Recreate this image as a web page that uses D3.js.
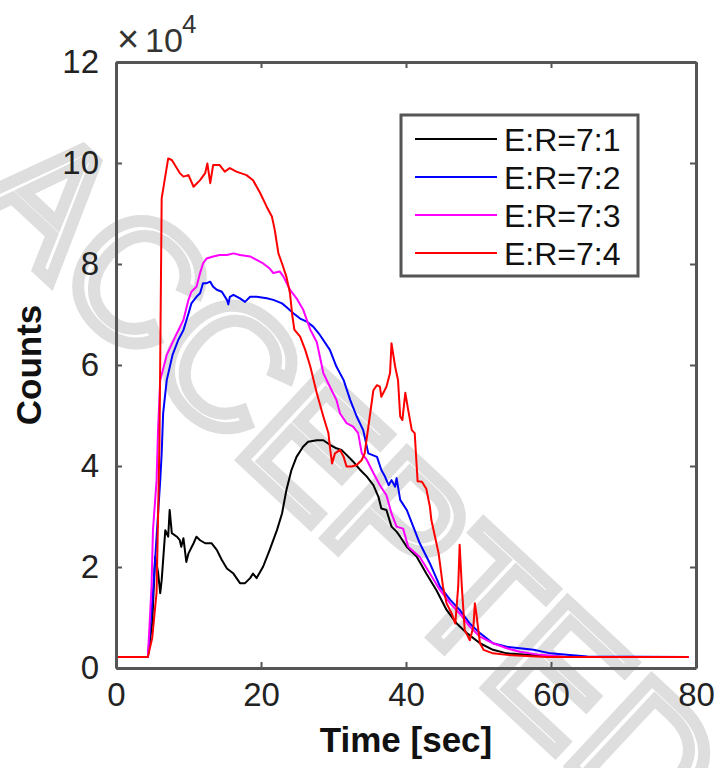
<!DOCTYPE html>
<html>
<head>
<meta charset="utf-8">
<script src="https://cdn.jsdelivr.net/npm/d3@7"></script>
<style>
  html, body { margin: 0; padding: 0; background: #fff; }
  svg { display: block; }
</style>
</head>
<body>
<div id="chart"></div>
<script>
// values are in units of 10^4 counts, time in seconds
const seriesNames = ["E:R=7:1", "E:R=7:2", "E:R=7:3", "E:R=7:4"];
const seriesColors = ["#000000", "#0000ff", "#ff00ff", "#ff0000"];

const blackT = [0, 4.4, 5.0, 5.4, 5.8, 6.1, 6.3, 6.8, 7.2, 7.4, 7.7, 8.4, 8.8, 9.0, 9.3, 9.7, 10.0, 10.7, 11.1, 11.6, 12.3, 13.2, 13.9, 14.6, 15.3, 16.2, 17.1, 17.8, 18.5, 18.9, 19.4, 20.3, 21.2, 22.2, 22.9, 23.5, 24.2, 24.9, 25.8, 26.5, 27.7, 28.6, 29.5, 30.4, 31.1, 31.8, 32.7, 33.7, 34.6, 35.5, 36.2, 36.6, 37.3, 38.0, 38.7, 39.2, 40.1, 41.5, 42.8, 44.2, 45.6, 47.0, 48.4, 50.2, 52.0, 53.9, 56.6, 59.4, 62, 79];
const blackV = [0.22, 0.22, 0.9, 2.2, 1.9, 1.48, 1.74, 2.73, 2.60, 3.13, 2.67, 2.60, 2.53, 2.40, 2.57, 2.10, 2.27, 2.47, 2.60, 2.53, 2.47, 2.47, 2.34, 2.14, 1.97, 1.87, 1.68, 1.68, 1.78, 1.87, 1.78, 2.01, 2.34, 2.73, 3.06, 3.52, 3.92, 4.18, 4.38, 4.48, 4.51, 4.51, 4.42, 4.35, 4.32, 4.22, 4.09, 3.92, 3.79, 3.62, 3.39, 3.16, 3.13, 2.80, 2.70, 2.60, 2.40, 2.20, 1.87, 1.54, 1.15, 0.88, 0.69, 0.49, 0.36, 0.29, 0.26, 0.24, 0.22, 0.22];

const blueT = [0, 4.4, 5.1, 6.1, 6.3, 6.5, 7.0, 7.8, 8.6, 9.3, 10.0, 10.4, 11.1, 11.6, 12.0, 12.5, 13.0, 13.4, 13.9, 14.6, 15.3, 15.5, 15.7, 16.2, 17.1, 17.8, 18.5, 19.4, 20.8, 21.7, 22.9, 23.5, 24.5, 25.4, 26.3, 27.2, 28.1, 29.5, 30.4, 31.4, 32.3, 33.2, 34.1, 34.8, 36.0, 36.6, 37.1, 37.6, 38.0, 38.5, 38.7, 39.2, 40.1, 41.0, 41.9, 43.3, 44.7, 46.1, 47.4, 48.8, 50.2, 52.0, 53.9, 55.7, 57.6, 59.9, 62.2, 65, 79];
const blueV = [0.22, 0.22, 1.48, 3.72, 4.25, 5.04, 5.70, 6.20, 6.50, 6.69, 7.02, 7.22, 7.35, 7.42, 7.62, 7.62, 7.65, 7.55, 7.49, 7.45, 7.29, 7.20, 7.35, 7.39, 7.32, 7.25, 7.35, 7.35, 7.32, 7.29, 7.22, 7.15, 7.02, 6.92, 6.86, 6.76, 6.60, 6.30, 5.97, 5.70, 5.31, 4.98, 4.71, 4.25, 4.18, 3.92, 3.79, 3.62, 3.72, 3.59, 3.76, 3.33, 3.13, 2.80, 2.47, 2.07, 1.61, 1.35, 1.15, 0.88, 0.69, 0.49, 0.42, 0.39, 0.36, 0.29, 0.26, 0.23, 0.22];

const magentaT = [0, 4.4, 4.9, 5.1, 5.6, 5.8, 6.1, 7.0, 8.4, 9.3, 10.0, 10.4, 11.1, 11.6, 12.0, 12.5, 13.4, 14.3, 15.3, 16.2, 17.1, 18.5, 19.4, 20.3, 21.2, 21.7, 22.6, 23.1, 24.0, 24.9, 25.8, 26.8, 27.7, 28.6, 29.5, 30.4, 30.9, 31.8, 32.7, 33.4, 33.9, 34.6, 35.5, 36.4, 37.3, 38.0, 38.7, 39.6, 40.3, 41.9, 43.3, 44.7, 46.1, 47.4, 48.8, 50.2, 52.0, 53.9, 55.7, 58.5, 62, 79];
const magentaV = [0.22, 0.22, 1.61, 2.73, 3.72, 4.71, 5.70, 6.20, 6.63, 6.89, 7.29, 7.45, 7.55, 7.82, 8.01, 8.11, 8.15, 8.18, 8.18, 8.21, 8.18, 8.15, 8.08, 8.01, 7.91, 7.82, 7.85, 7.75, 7.49, 7.32, 7.10, 6.70, 6.45, 5.84, 5.57, 5.31, 5.04, 4.85, 4.78, 4.65, 4.25, 4.12, 3.86, 3.62, 3.42, 3.06, 2.80, 2.76, 2.40, 2.20, 1.87, 1.54, 1.28, 1.08, 0.82, 0.62, 0.49, 0.39, 0.32, 0.26, 0.22, 0.22];

const redT = [0, 4.4, 5.0, 5.6, 6.0, 6.3, 7.2, 7.7, 8.8, 9.3, 10.0, 10.7, 11.6, 12.3, 12.6, 13.0, 13.4, 14.3, 15.0, 15.7, 16.6, 18.0, 18.9, 19.9, 20.8, 21.5, 21.7, 21.9, 22.4, 22.9, 23.5, 24.0, 24.3, 24.6, 25.4, 26.1, 26.8, 27.7, 28.6, 29.3, 29.5, 29.8, 30.2, 30.9, 31.4, 31.8, 32.5, 33.2, 33.9, 34.3, 35.0, 35.5, 36.0, 36.4, 36.6, 37.3, 37.8, 38.0, 38.5, 38.9, 39.2, 39.5, 39.9, 40.3, 40.8, 41.2, 41.6, 42.2, 42.8, 43.3, 43.5, 44.0, 44.5, 45.1, 45.6, 46.3, 46.8, 47.2, 47.4, 47.7, 48.1, 48.8, 49.3, 49.5, 49.7, 50.2, 50.7, 52.0, 53.9, 56.6, 59.4, 79];
const redV = [0.22, 0.22, 0.6, 1.5, 4.5, 9.3, 10.09, 10.06, 9.80, 9.73, 9.76, 9.53, 9.66, 9.80, 9.99, 9.60, 9.96, 9.96, 9.83, 9.90, 9.83, 9.76, 9.66, 9.40, 9.13, 8.94, 8.81, 8.67, 8.21, 8.01, 7.75, 7.42, 7.00, 6.70, 6.56, 6.30, 5.97, 5.44, 4.98, 4.65, 4.38, 4.05, 4.25, 4.32, 4.18, 3.99, 3.99, 4.02, 4.12, 4.25, 4.98, 5.50, 5.60, 5.57, 5.37, 5.57, 5.84, 6.43, 5.97, 5.70, 4.98, 4.91, 5.45, 5.11, 4.71, 4.65, 3.70, 3.69, 3.55, 3.19, 2.93, 2.60, 2.27, 1.61, 1.28, 1.08, 0.88, 1.61, 2.44, 1.61, 0.75, 0.55, 0.82, 1.28, 1.08, 0.49, 0.36, 0.29, 0.26, 0.24, 0.22, 0.22];

const xTicks = [0, 20, 40, 60, 80];
const yTicks = [0, 2, 4, 6, 8, 10, 12];

const allT = [blackT, blueT, magentaT, redT];
const allV = [blackV, blueV, magentaV, redV];

const width = 721;
const height = 768;
const plotLeft = 116, plotRight = 696, plotTop = 62, plotBottom = 668;

const svg = d3.select("#chart")
    .append("svg")
    .attr("width", width)
    .attr("height", height);

// watermark, runs off the page like in the original
svg.append("text")
    .attr("transform", "translate(350,478) rotate(43)")
    .attr("text-anchor", "middle")
    .attr("dominant-baseline", "central")
    .attr("font-family", "Liberation Sans, Arial, sans-serif")
    .attr("font-size", 172)
    .attr("fill", "none")
    .attr("stroke", "#dedede")
    .attr("stroke-width", 12)
    .text("ACCEPTED");

const x = d3.scaleLinear().domain([0, 80]).range([plotLeft, plotRight]);
const y = d3.scaleLinear().domain([0, 12]).range([plotBottom, plotTop]);

const font = "Liberation Sans, Arial, Helvetica, sans-serif";

// lines
const line = d3.line()
    .x(d => x(d[0]))
    .y(d => y(d[1]));

allT.forEach((ts, i) => {
    const pts = ts.map((t, j) => [t, allV[i][j]]);
    svg.append("path")
        .datum(pts)
        .attr("fill", "none")
        .attr("stroke", seriesColors[i])
        .attr("stroke-width", 2)
        .attr("stroke-linejoin", "round")
        .attr("d", line);
});

// axes
const axisColor = "#555";

function styleAxis(g) {
    g.select(".domain").attr("stroke", axisColor).attr("stroke-width", 3);
    g.selectAll(".tick line").attr("stroke", axisColor).attr("stroke-width", 2);
    g.selectAll(".tick text")
        .attr("fill", "#222")
        .attr("font-family", font)
        .attr("font-size", 33);
}

svg.append("g")
    .attr("transform", `translate(0,${plotBottom})`)
    .call(d3.axisBottom(x).tickValues(xTicks).tickSizeInner(-6).tickSizeOuter(0).tickPadding(15))
    .call(styleAxis)
    .call(g => g.selectAll(".tick text").attr("dy", "0.71em"));

svg.append("g")
    .attr("transform", `translate(0,${plotTop})`)
    .call(d3.axisTop(x).tickValues(xTicks).tickSizeInner(-6).tickSizeOuter(0).tickFormat(""))
    .call(styleAxis);

svg.append("g")
    .attr("transform", `translate(${plotLeft},0)`)
    .call(d3.axisLeft(y).tickValues(yTicks).tickSizeInner(-6).tickSizeOuter(0).tickPadding(17))
    .call(styleAxis);

svg.append("g")
    .attr("transform", `translate(${plotRight},0)`)
    .call(d3.axisRight(y).tickValues(yTicks).tickSizeInner(-6).tickSizeOuter(0).tickFormat(""))
    .call(styleAxis);

// exponent
const expo = svg.append("text")
    .attr("y", 52)
    .attr("font-family", font)
    .attr("fill", "#333")
    .attr("font-size", 34);
expo.append("tspan").attr("x", 117).attr("font-size", 38).text("\u00d7");
expo.append("tspan").attr("x", 145).text("10");
expo.append("tspan").attr("x", 182).attr("font-size", 26).attr("dy", -19).text("4");

// axis labels
svg.append("text")
    .attr("x", (plotLeft + plotRight) / 2)
    .attr("y", 752)
    .attr("text-anchor", "middle")
    .attr("font-family", font)
    .attr("font-weight", "bold")
    .attr("font-size", 35)
    .attr("fill", "#111")
    .text("Time [sec]");

svg.append("text")
    .attr("transform", `translate(41,${(plotTop + plotBottom) / 2}) rotate(-90)`)
    .attr("text-anchor", "middle")
    .attr("font-family", font)
    .attr("font-weight", "bold")
    .attr("font-size", 35)
    .attr("fill", "#111")
    .text("Counts");

// legend
const legend = svg.append("g");
legend.append("rect")
    .attr("x", 401)
    .attr("y", 115)
    .attr("width", 237)
    .attr("height", 161)
    .attr("fill", "#fff")
    .attr("stroke", axisColor)
    .attr("stroke-width", 3);

const rowY = d3.scaleLinear().domain([0, 3]).range([139, 253]);

seriesNames.forEach((name, i) => {
    legend.append("line")
        .attr("x1", 415).attr("x2", 497)
        .attr("y1", rowY(i)).attr("y2", rowY(i))
        .attr("stroke", seriesColors[i])
        .attr("stroke-width", 2);
    legend.append("text")
        .attr("x", 504)
        .attr("y", rowY(i))
        .attr("dy", "0.36em")
        .attr("font-family", font)
        .attr("font-size", 32)
        .attr("fill", "#111")
        .text(name);
});
</script>
</body>
</html>
